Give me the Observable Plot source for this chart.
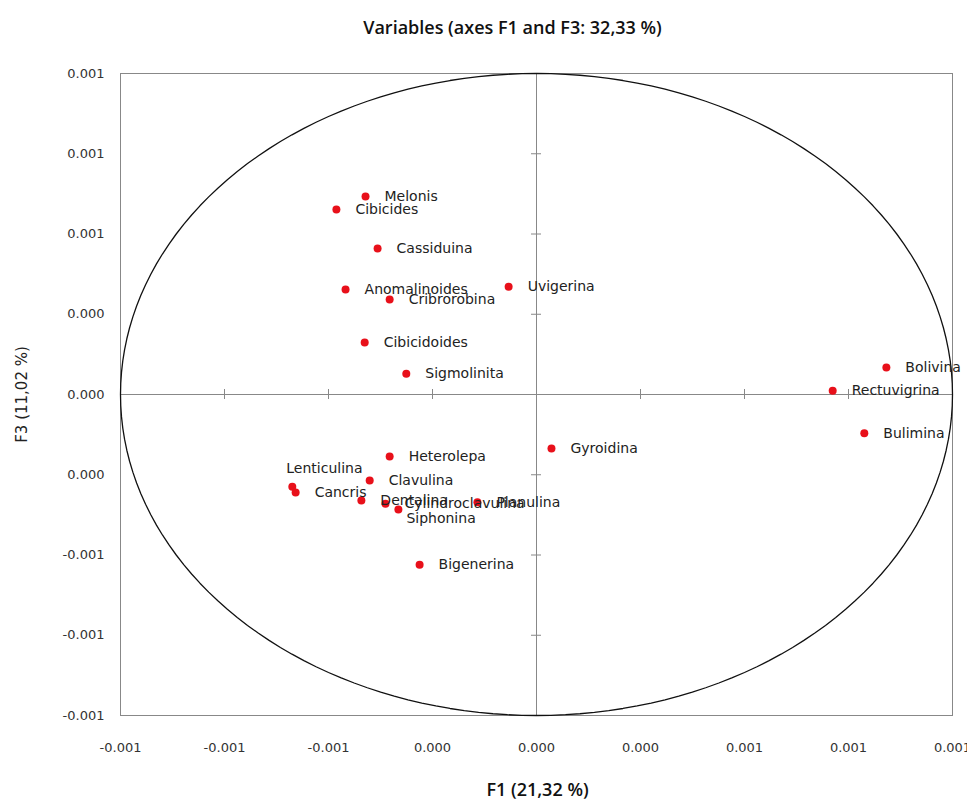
<!DOCTYPE html>
<html>
<head>
<meta charset="utf-8">
<script src="https://cdn.jsdelivr.net/npm/d3@7"></script>
<script src="https://cdn.jsdelivr.net/npm/@observablehq/plot@0.6"></script>
<style>
  html, body { margin: 0; padding: 0; background: #fff; }
  #chart svg text.lbl { letter-spacing: 0.3px; }
</style>
</head>
<body>
<div id="chart"></div>
<script>
// ---- data ----
const names = ["Melonis","Cibicides","Cassiduina","Anomalinoides","Cribrorobina","Uvigerina",
  "Cibicidoides","Sigmolinita","Bolivina","Rectuvigrina","Bulimina","Gyroidina","Heterolepa",
  "Lenticulina","Cancris","Clavulina","Dentalina","Cylindroclavulina","Siphonina","Planulina","Bigenerina"];
const f1 = [-0.411,-0.481,-0.382,-0.459,-0.353,-0.067,-0.413,-0.313,0.841,0.712,0.788,0.036,-0.353,
  -0.587,-0.579,-0.401,-0.421,-0.363,-0.332,-0.142,-0.281];
const f3 = [0.617,0.576,0.455,0.327,0.296,0.336,0.162,0.065,0.084,0.012,-0.121,-0.168,-0.193,
  -0.287,-0.305,-0.268,-0.330,-0.340,-0.358,-0.336,-0.530];
const ticks = [-1,-0.75,-0.5,-0.25,0,0.25,0.5,0.75,1];
const xTickLabels = ["-0.001","-0.001","-0.001","0.000","0.000","0.000","0.001","0.001","0.001"];
const yTickLabels = ["-0.001","-0.001","-0.001","0.000","0.000","0.000","0.001","0.001","0.001"];
const title = "Variables (axes F1 and F3: 32,33 %)";
const xTitle = "F1 (21,32 %)";
const yTitle = "F3 (11,02 %)";

const data = names.map((n, i) => ({name: n, x: f1[i], y: f3[i]}));
// manual label placements (as dragged in the original)
const nudges = {Lenticulina: {dx: -6, dy: -18}, Siphonina: {dx: 8, dy: 9}};
const circle = d3.range(0, 361, 2).map(a => ({x: Math.cos(a * Math.PI / 180), y: Math.sin(a * Math.PI / 180)}));

const gray = "#888888";
const labelFont = "DejaVu Sans";

const marks = [
  Plot.frame({stroke: gray}),
  Plot.ruleX([0], {stroke: gray}),
  Plot.ruleY([0], {stroke: gray}),
  Plot.ruleX(ticks, {x: d => d, y1: 0, y2: 0, insetTop: -5, insetBottom: -5, stroke: gray}),
  Plot.ruleY(ticks, {y: d => d, x1: 0, x2: 0, insetLeft: -5, insetRight: -5, stroke: gray}),
  Plot.line(circle, {x: "x", y: "y", stroke: "#111", strokeWidth: 1.3}),
  Plot.axisX(ticks, {tickSize: 0, tickPadding: 27, tickFormat: (d, i) => xTickLabels[i],
    fontSize: 13, fontFamily: labelFont, fill: "#333", label: null}),
  Plot.axisY(ticks, {tickSize: 0, tickPadding: 16, tickFormat: (d, i) => yTickLabels[i],
    fontSize: 13, fontFamily: labelFont, fill: "#333", label: null}),
  Plot.dot(data, {x: "x", y: "y", r: 4, fill: "#e8101a", stroke: "none"}),
  Plot.text(data.filter(d => !nudges[d.name]), {x: "x", y: "y", text: "name", dx: 19, textAnchor: "start",
    fontSize: 14, fontFamily: labelFont, fill: "#222", className: "lbl"}),
  ...Object.entries(nudges).map(([n, o]) =>
    Plot.text(data.filter(d => d.name === n), {x: "x", y: "y", text: "name", dx: o.dx, dy: o.dy, textAnchor: "start",
      fontSize: 14, fontFamily: labelFont, fill: "#222", className: "lbl"})),
  Plot.text([title], {frameAnchor: "top", dx: -24, dy: -45, lineAnchor: "middle", text: d => d, fontSize: 18,
    fontWeight: 600, fontFamily: "Open Sans", fill: "#111"}),
  Plot.text([xTitle], {frameAnchor: "bottom", dx: 1, dy: 75, lineAnchor: "middle", text: d => d, fontSize: 18,
    fontWeight: 600, fontFamily: "Open Sans", fill: "#111"}),
  Plot.text([yTitle], {frameAnchor: "left", dx: -98, textAnchor: "middle", text: d => d, rotate: -90, fontSize: 15,
    fontFamily: labelFont, fill: "#222"})
];

const chart = Plot.plot({
  width: 967,
  height: 801,
  marginLeft: 120,
  marginRight: 15,
  marginTop: 73,
  marginBottom: 86,
  x: {domain: [-1, 1]},
  y: {domain: [-1, 1]},
  style: {background: "#fff", overflow: "visible"},
  marks
});
document.getElementById("chart").appendChild(chart);
</script>
</body>
</html>
